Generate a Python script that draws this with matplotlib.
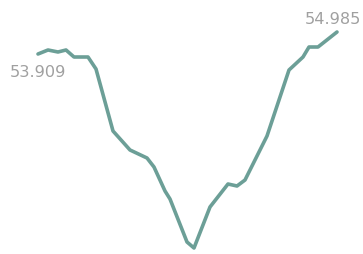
import numpy as np
import matplotlib
matplotlib.use("Agg")
import matplotlib.pyplot as plt

# time positions (arbitrary day units) and series values
t = [0, 10, 20, 28, 36, 50, 58, 75, 92, 109, 116, 127, 132, 149, 156,
     172, 190, 199, 207, 229, 251, 265, 271, 280, 299]
values = [53.909, 54.105, 54.007, 54.105, 53.762, 53.762, 53.175, 50.143,
          49.214, 48.822, 48.382, 47.208, 46.817, 44.714, 44.420, 46.426,
          47.551, 47.453, 47.746, 49.898, 53.126, 53.762, 54.251, 54.251,
          54.985]
first_label = "53.909"
last_label = "54.985"

line_color = "#6c9f97"
text_color = "#a0a0a0"

fig = plt.figure(figsize=(3.63, 2.55), dpi=100)
ax = fig.add_axes([0, 0, 1, 1])
ax.plot(t, values, color=line_color, lw=2.6, solid_joinstyle="round",
        solid_capstyle="round")

ax.set_xlim(-38, 325)
ax.set_ylim(44.127, 56.599)
ax.axis("off")

ax.annotate(first_label, (t[0], values[0]), xytext=(0, -12.5),
            textcoords="offset points", ha="center", va="center",
            fontsize=11.6, color=text_color)
ax.annotate(last_label, (t[-1], values[-1]), xytext=(-3, 9.5),
            textcoords="offset points", ha="center", va="center",
            fontsize=11.6, color=text_color)

fig.savefig("out.png", dpi=100)
